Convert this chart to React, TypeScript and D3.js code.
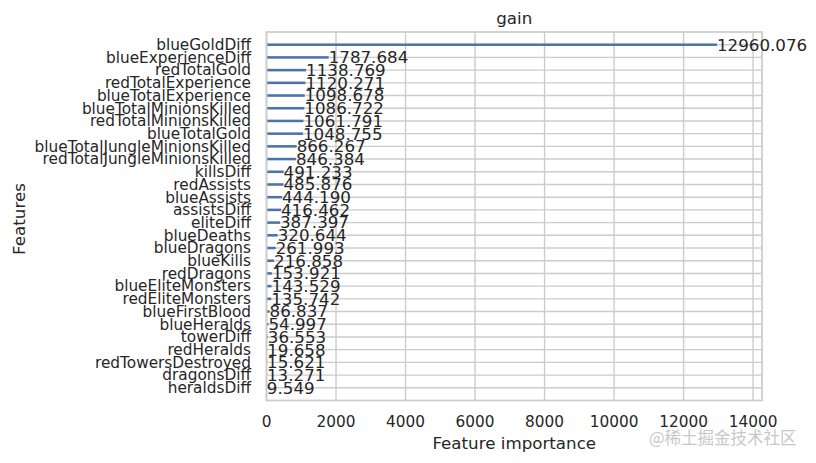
import React from "react";
import * as d3 from "d3";

const features = [
  "blueGoldDiff", "blueExperienceDiff", "redTotalGold", "redTotalExperience",
  "blueTotalExperience", "blueTotalMinionsKilled", "redTotalMinionsKilled", "blueTotalGold",
  "blueTotalJungleMinionsKilled", "redTotalJungleMinionsKilled", "killsDiff", "redAssists",
  "blueAssists", "assistsDiff", "eliteDiff", "blueDeaths", "blueDragons", "blueKills",
  "redDragons", "blueEliteMonsters", "redEliteMonsters", "blueFirstBlood", "blueHeralds",
  "towerDiff", "redHeralds", "redTowersDestroyed", "dragonsDiff", "heraldsDiff",
];

const gains = [
  12960.076, 1787.684, 1138.769, 1120.271, 1098.678, 1086.722, 1061.791, 1048.755,
  866.267, 846.384, 491.233, 485.876, 444.19, 416.462, 387.397, 320.644, 261.993,
  216.858, 153.921, 143.529, 135.742, 86.837, 54.997, 36.553, 19.658, 15.621, 13.271, 9.549,
];

const xTicks = [0, 2000, 4000, 6000, 8000, 10000, 12000, 14000];

const W = 816;
const H = 463;
const left = 266.5;
const right = 762;
const top = 32;
const bottom = 400.5;
const font = "'DejaVu Sans', sans-serif";
const textColor = "#262626";
const gridColor = "#cccccc";
const barColor = "#4c72b0";

export default function App() {
  const n = features.length;
  const maxV = d3.max(gains) as number;
  const x = d3.scaleLinear().domain([0, maxV * 1.1]).range([left, right]);
  const y = d3.scaleLinear().domain([-1, n]).range([bottom, top]);
  // position index: bottom feature gets 0
  const pos = (i: number) => n - 1 - i;
  const barH = Math.abs(y(0) - y(0.2));

  return (
    <svg width={W} height={H} style={{ position: "absolute", left: 0, top: 0, background: "#fff" }}>
      {/* horizontal grid */}
      {features.map((f, i) => (
        <line key={"hg" + f} x1={left} x2={right} y1={y(pos(i))} y2={y(pos(i))} stroke={gridColor} strokeWidth={1.39} />
      ))}
      {/* vertical grid */}
      {xTicks.map((t) => (
        <line key={"vg" + t} x1={x(t)} x2={x(t)} y1={top} y2={bottom} stroke={gridColor} strokeWidth={1.39} />
      ))}
      {/* bars */}
      {gains.map((v, i) => (
        <rect key={"b" + i} x={x(0)} y={y(pos(i)) - barH / 2} width={x(v) - x(0)} height={barH} fill={barColor} />
      ))}
      {/* frame */}
      <rect x={left} y={top} width={right - left} height={bottom - top} fill="none" stroke={gridColor} strokeWidth={1.74} />
      {/* value annotations */}
      {gains.map((v, i) => (
        <text key={"a" + i} x={x(v + 1)} y={y(pos(i))} dy="0.35em" fontFamily={font} fontSize={16.7} fill={textColor}>
          {d3.format(".3f")(v)}
        </text>
      ))}
      {/* y tick labels */}
      {features.map((f, i) => (
        <text key={"yl" + f} x={251} y={y(pos(i))} dy="0.35em" textAnchor="end" fontFamily={font} fontSize={15.3} fill={textColor}>
          {f}
        </text>
      ))}
      {/* x tick labels */}
      {xTicks.map((t) => (
        <text key={"xl" + t} x={x(t)} y={427.3} textAnchor="middle" fontFamily={font} fontSize={15.3} fill={textColor}>
          {t}
        </text>
      ))}
      {/* title */}
      <text x={(left + right) / 2} y={23.7} textAnchor="middle" fontFamily={font} fontSize={16.7} fill={textColor}>gain</text>
      {/* x label */}
      <text x={(left + right) / 2} y={449.3} textAnchor="middle" fontFamily={font} fontSize={16.7} fill={textColor}>Feature importance</text>
      {/* y label */}
      <text transform={`translate(24.5,219) rotate(-90)`} textAnchor="middle" fontFamily={font} fontSize={16.7} fill={textColor}>Features</text>
      {/* watermark */}
      <text x={649} y={444} fontFamily="'Noto Sans CJK SC', sans-serif" fontSize={16.5} fill="#c8c8c8">@稀土掘金技术社区</text>
    </svg>
  );
}
